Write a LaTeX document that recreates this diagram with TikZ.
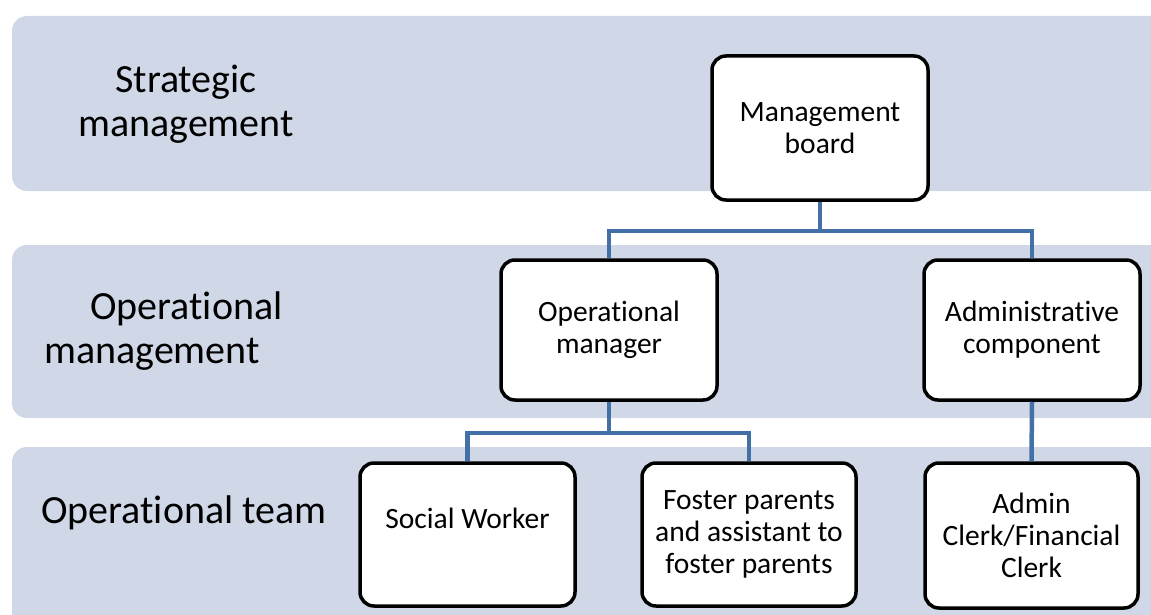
\documentclass[tikz,border=0pt]{standalone}
\usepackage{fontspec}
\setmainfont{Carlito}[Ligatures={NoCommon}]
\definecolor{band}{HTML}{D0D8E8}
\definecolor{conncol}{HTML}{4470A8}
\begin{document}
\begin{tikzpicture}[x=1pt,y=-1pt,
  bandbox/.style={fill=band,rounded corners=15pt},
  orgbox/.style={draw=black,line width=3.5pt,rounded corners=14pt,fill=white,
    minimum width=216pt,minimum height=144pt,align=center,inner sep=2pt,
    font=\fontsize{29.5}{32}\selectfont},
  bandlabel/.style={align=center,inner sep=0pt,font=\fontsize{40}{44}\selectfont},
  conn/.style={draw=conncol,line width=4.5pt}]
\useasboundingbox (0,0) rectangle (1151,615);
\clip (0,0) rectangle (1151,615);
\fill[bandbox] (12,16) rectangle (1180,191);
\fill[bandbox] (12,245) rectangle (1180,418);
\fill[bandbox] (12,447) rectangle (1180,660);

\node[bandlabel] (lab1) at (186,104) {Strategic\\management};
\node[bandlabel,align=left,anchor=west] (lab2) at (44,331) {\hspace*{46pt}Operational\\management};
\node[bandlabel,anchor=west] (lab3) at (41,513) {Operational team};

\node[orgbox,minimum height=144pt] (mb) at (820,128) {Management\\board};
\node[orgbox,minimum height=140pt] (om) at (609,330) {Operational\\manager};
\node[orgbox,minimum height=140pt] (ac) at (1032,330) {Administrative\\component};
\node[orgbox,minimum height=143pt,minimum width=215pt] (sw) at (467.5,534.5) {Social Worker\\\mbox{}};
\node[orgbox,minimum height=143pt,minimum width=214pt] (fp) at (749,534.5) {Foster parents\\and assistant to\\foster parents};
\node[orgbox,minimum height=145pt,minimum width=213pt] (cl) at (1031.5,535.5) {Admin\\Clerk/Financial\\Clerk};

\coordinate (j1) at (820,231);
\coordinate (j2) at (609,433);
\draw[conn] (mb.south) -- (j1);
\draw[conn] (j1) -| (om.north);
\draw[conn] (j1) -| (ac.north);
\draw[conn] (om.south) -- (j2);
\draw[conn] (j2) -| (sw.north);
\draw[conn] (j2) -| (fp.north);
\draw[conn] (ac.south) -- (cl.north);
\end{tikzpicture}
\end{document}
